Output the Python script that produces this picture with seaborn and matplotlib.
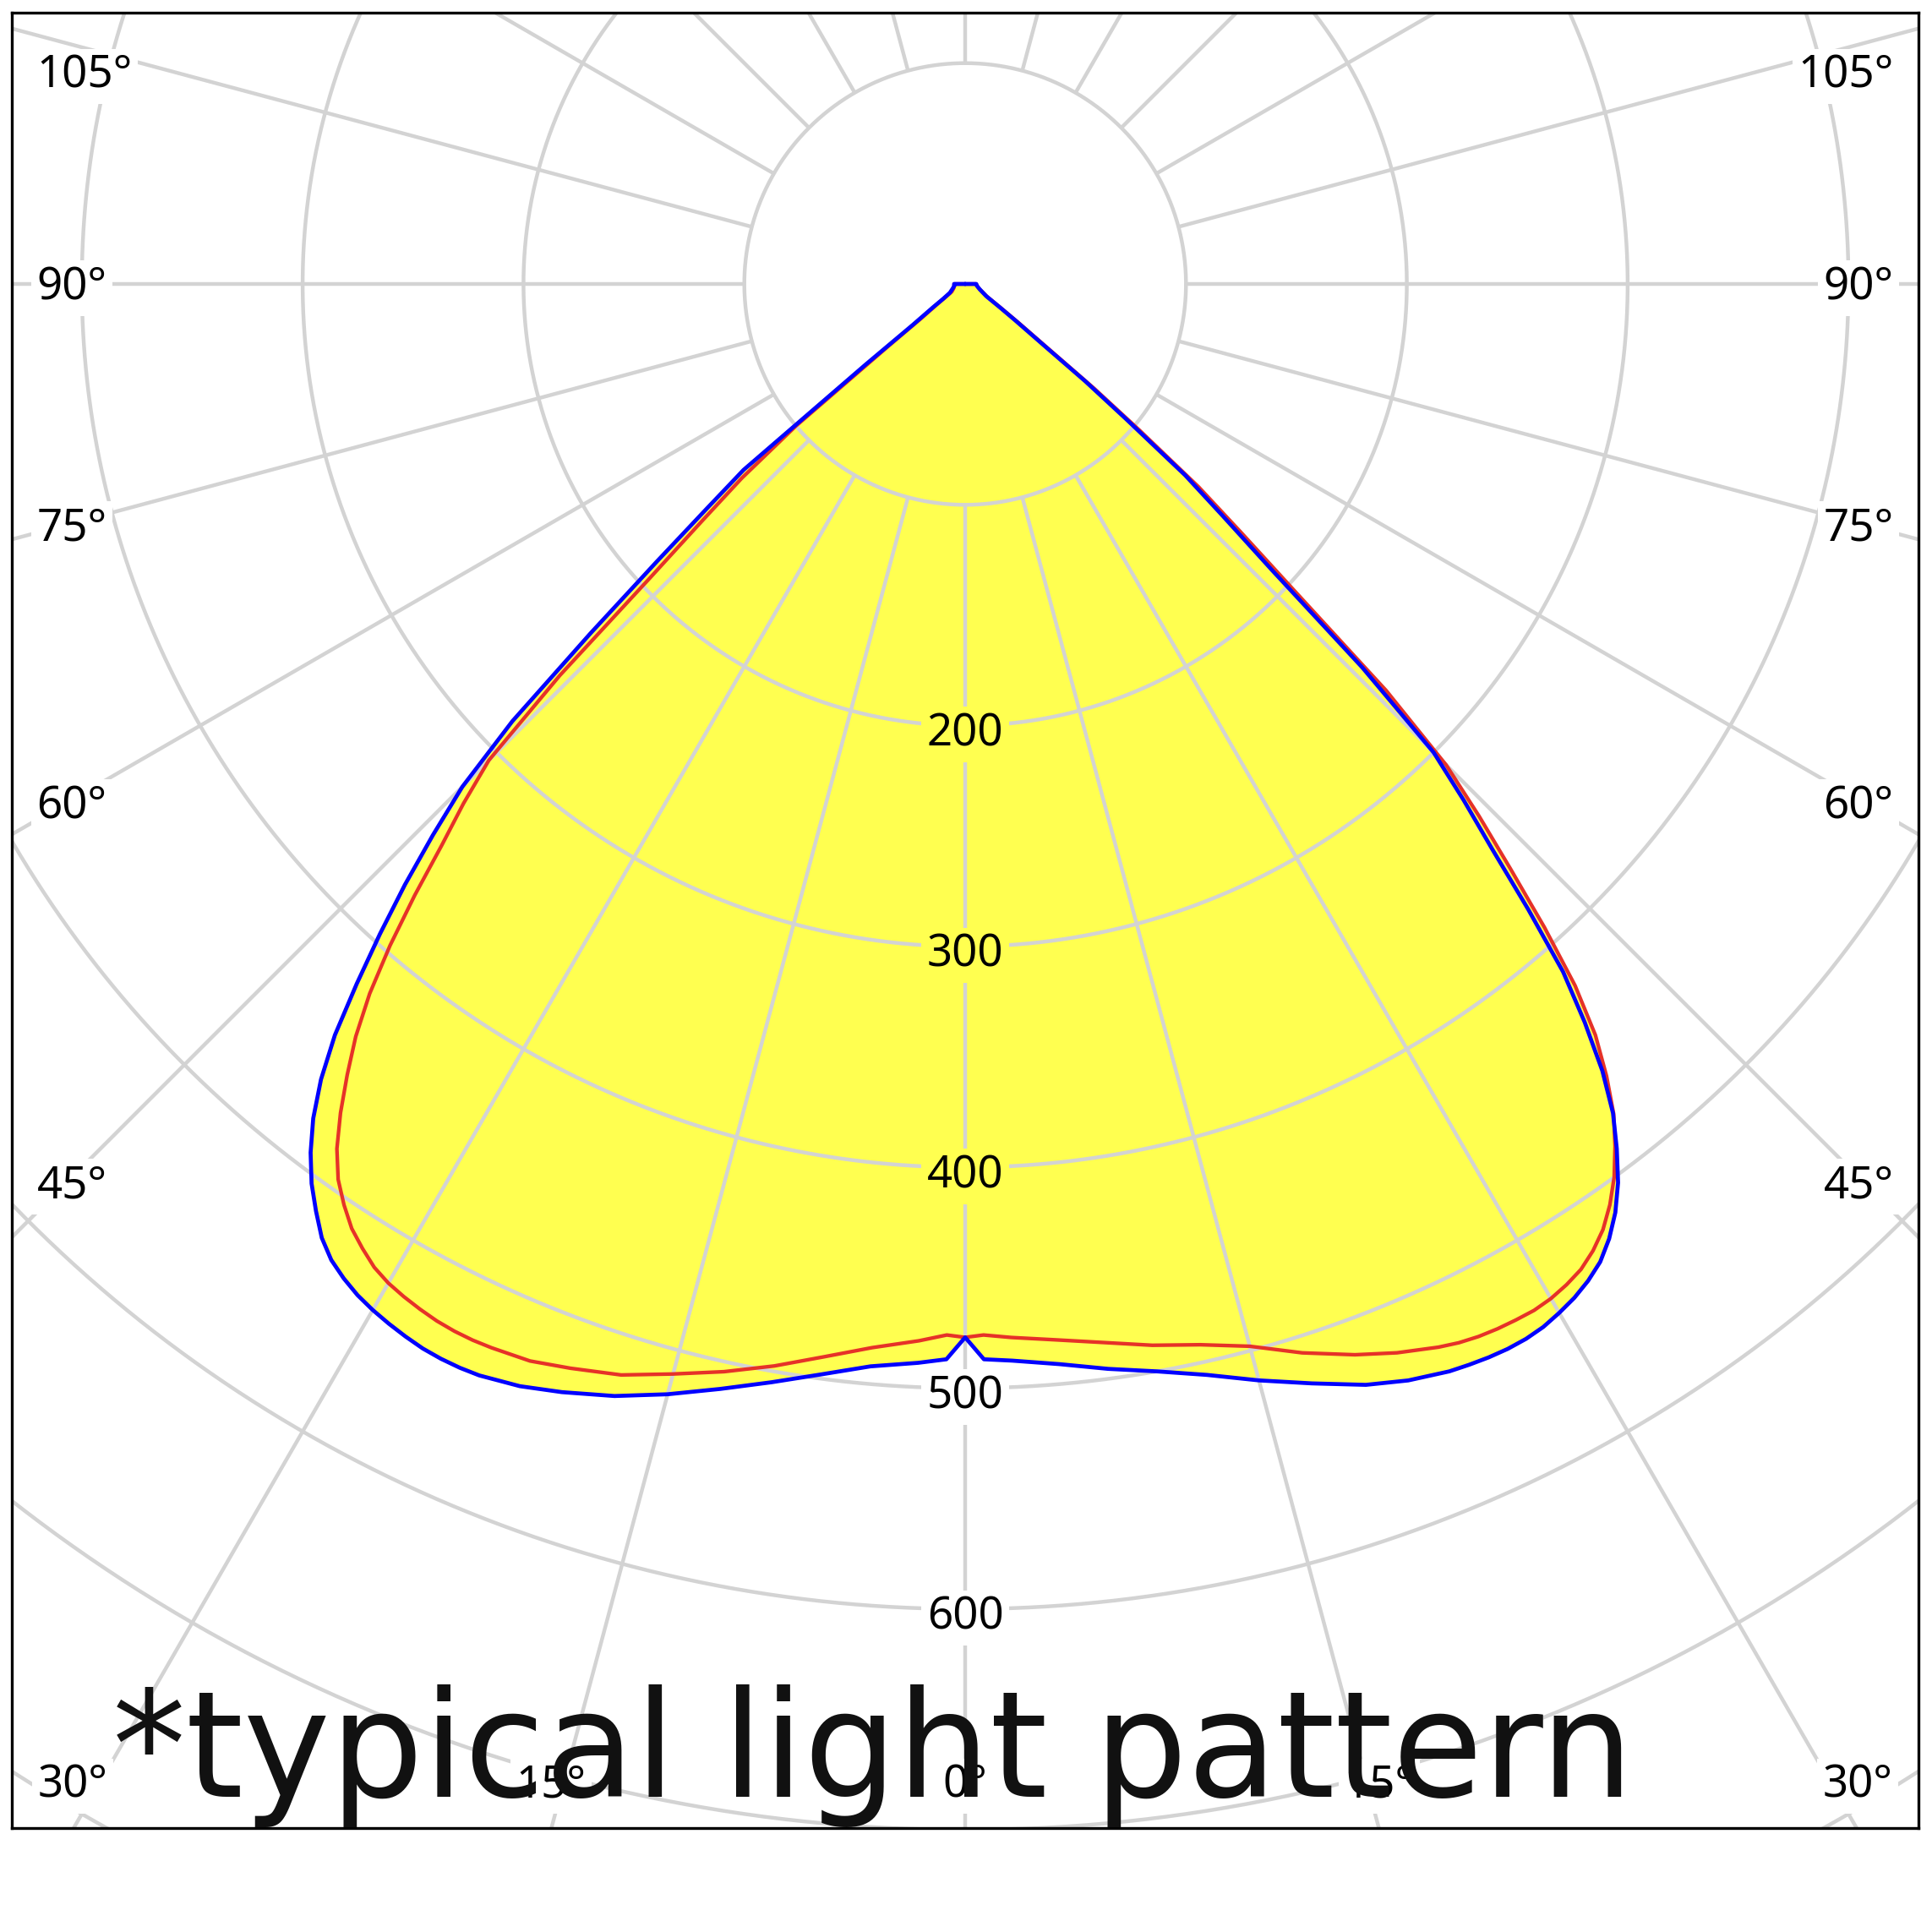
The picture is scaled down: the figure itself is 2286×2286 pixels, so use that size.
import numpy as np
import matplotlib
matplotlib.use("Agg")
import matplotlib.pyplot as plt
import seaborn as sns

# ---- data (luminous intensity) ----
angles = [0, 1, 2.5, 5, 7.5, 10, 12.5, 15, 17.5, 20, 22, 24,
          25, 26, 27, 28, 29, 30, 31, 32, 33, 34, 35, 36, 37, 38, 39, 40,
          41, 42, 43, 44, 45, 46, 47, 48, 49, 50, 51, 52,
          54, 56, 60, 70, 80, 90, 180]
blue_left = [477, 487, 489, 492, 498, 505, 512.5, 520.5, 528, 534, 538.3, 541,
             541.5, 541.5, 541, 539.8, 538.3, 536.5, 534.2, 531, 527, 521, 512.5,
             503.5, 492.5, 479.5, 463.5, 444,
             420, 396, 372, 347, 322, 285, 232, 188, 155, 131, 58, 30,
             18, 12, 8, 6, 5, 5, 0]
blue_right = [477, 487, 488, 491, 495.5, 500, 506, 514, 522, 530.5, 535.5, 539,
              540, 540.8, 541.2, 541, 540, 538, 535.6, 532.3, 528, 521.5, 513.3,
              503, 490.3, 476.5, 458.5, 436.5,
              412.7, 381, 350, 325, 300, 250, 190, 157, 132, 95, 70, 46,
              28, 19, 11, 7, 5.5, 5, 0]
red_left = [477, 476, 479, 483.5, 490, 497.5, 504.5, 511, 518, 522.5, 526, 527.3,
            527.7, 527.6, 527, 525.8, 524.3, 522.4, 519.5, 515, 510, 503, 495,
            484, 470, 454.5, 438.5, 419.5,
            397, 372.5, 347.5, 327, 305, 255, 195, 160, 134, 100, 45, 25,
            16, 11, 7, 5.5, 5, 5, 0]
red_right = [477, 476, 477.5, 480, 483.5, 488, 492, 498, 507.5, 516, 522, 527,
             529, 530.3, 531, 531.3, 531.4, 530.5, 528.7, 526.2, 522, 516.5, 509,
             500, 489, 477, 461.5, 444,
             421, 392, 362, 335, 308, 265, 205, 168, 140, 103, 75, 50,
             30, 20, 11.5, 7, 5.5, 5, 0]

ring_values = [100, 200, 300, 400, 500, 600, 700, 800, 900]
ring_label_values = [200, 300, 400, 500, 600]
spoke_angles = list(range(0, 360, 15))
side_label_angles = [45, 60, 75, 90, 105]
bottom_label_angles = [-30, -15, 0, 15, 30]
title = "*typical light pattern"

YELLOW = "#FFFF50"
BLUE = "#0000FF"
RED = "#E63228"
GRID = "#D3D3D3"

sns.set_style("white")
plt.rcParams["font.family"] = ["Noto Sans", "DejaVu Sans"]

fig = plt.figure(figsize=(22.86, 22.86), dpi=100)
W = 2286.0
ax = fig.add_axes([14 / W, (W - 2163) / W, 2256 / W, 2148 / W])
K = 2.613  # px per unit
ax.set_xlim(-1128 / K, 1128 / K)
ax.set_ylim(-(2163 - 336) / K, (336 - 15) / K)
ax.set_xticks([])
ax.set_yticks([])
for s in ax.spines.values():
    s.set_visible(True)
    s.set_color("black")
    s.set_linewidth(2.4)


def half_xy(vals, side):
    th = np.radians(angles)
    r = np.asarray(vals, dtype=float)
    return side * r * np.sin(th), -r * np.cos(th)


def curve(left, right):
    xl, yl = half_xy(left, -1)
    xr, yr = half_xy(right, 1)
    return (np.concatenate([xl[::-1], xr[1:]]),
            np.concatenate([yl[::-1], yr[1:]]))


bx, by = curve(blue_left, blue_right)
rx, ry = curve(red_left, red_right)

# fill
ax.fill(bx, by, color=YELLOW, lw=0, zorder=1)
ax.fill(rx, ry, color=YELLOW, lw=0, zorder=1)

# grid
t = np.linspace(0, 2 * np.pi, 1441)
for rv in ring_values:
    ax.plot(rv * np.sin(t), rv * np.cos(t), color=GRID, lw=3.2, zorder=2)
for a in spoke_angles:
    ar = np.radians(a)
    ax.plot([100 * np.sin(ar), 1000 * np.sin(ar)],
            [-100 * np.cos(ar), -1000 * np.cos(ar)],
            color=GRID, lw=3.2, zorder=2, solid_capstyle="butt")

# curves
sns.lineplot(x=rx, y=ry, sort=False, estimator=None, color=RED, lw=3.1,
             ax=ax, zorder=4, solid_joinstyle="round", solid_capstyle="round")
sns.lineplot(x=bx, y=by, sort=False, estimator=None, color=BLUE, lw=3.4,
             ax=ax, zorder=4, solid_joinstyle="round", solid_capstyle="round")

FS = 38
# ring labels
for rv in ring_label_values:
    fc = YELLOW if rv < blue_left[0] else "white"
    ax.text(0, -rv - 9.2, str(rv), ha="center", va="baseline", fontsize=FS,
            color="black", zorder=3,
            bbox=dict(boxstyle="square,pad=0.12", fc=fc, ec="none"))

# side labels
x_in = 406.6
for a in side_label_angles:
    yc = -x_in * np.cos(np.radians(a)) / np.sin(np.radians(a))
    yc = min(yc, 96)
    for side in (-1, 1):
        ax.text(side * (1098.5 / K) if side > 0 else -(1098.5 / K), yc - 7.2,
                f"{a}°", ha="right" if side > 0 else "left", va="baseline",
                fontsize=FS, color="black", zorder=5,
                bbox=dict(boxstyle="square,pad=0.12", fc="white", ec="none"))

# bottom labels
for a in bottom_label_angles:
    xc = 700 * np.tan(np.radians(a))
    ax.text(xc, -678.2 - 7.2, f"{abs(a)}°", ha="center", va="baseline",
            fontsize=FS, color="black", zorder=5,
            bbox=dict(boxstyle="square,pad=0.12", fc="white", ec="none"))

# overlay title
ax.text(-386, -(2126 - 336) / K, title, ha="left", va="baseline",
        fontsize=125, family="DejaVu Sans", color="#111111", zorder=6,
        clip_on=True)

fig.savefig("out.png", dpi=100, facecolor="white")
